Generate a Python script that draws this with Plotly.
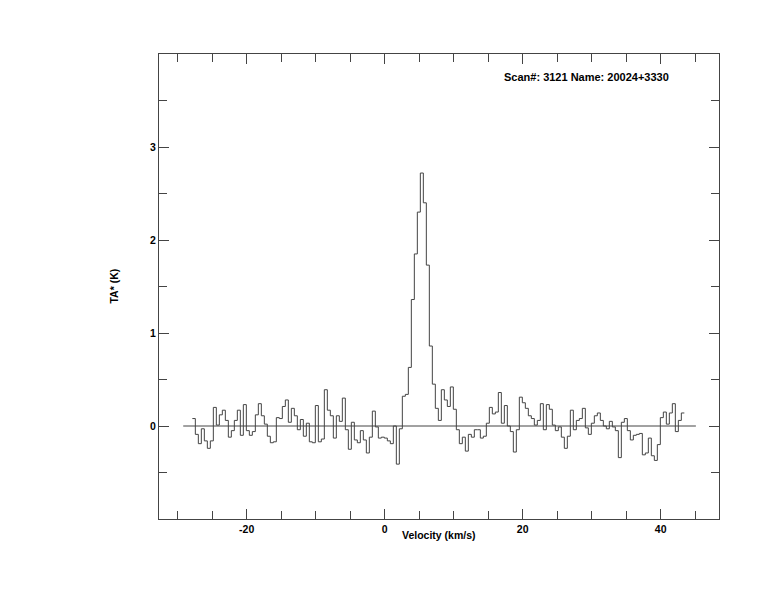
import numpy as np
import plotly.graph_objects as go

# Spectrometer channel grid (km/s): left edge of first channel and channel width
V_FIRST_EDGE = -27.88
V_CHANNEL_WIDTH = 0.4348

# Antenna temperature TA* (K) per channel
TA = [
    0.08, -0.09, -0.19, -0.03, -0.16, -0.24, -0.16, 0.20, 0.01, 0.12,
    0.17, 0.06, -0.12, -0.05, 0.06, 0.17, -0.10, 0.23, -0.05, -0.10,
    -0.06, 0.12, 0.24, 0.11, 0.02, -0.11, -0.18, -0.17, 0.09, 0.08,
    0.21, 0.28, 0.04, 0.19, 0.11, -0.04, 0.07, -0.11, 0.03, -0.17,
    -0.18, 0.22, -0.17, -0.14, 0.39, 0.17, 0.11, -0.13, 0.11, 0.05,
    0.30, -0.04, -0.25, 0.04, -0.15, -0.18, -0.05, -0.15, -0.29, -0.12,
    0.16, -0.01, -0.13, -0.12, -0.13, -0.16, -0.19, 0.00, -0.41, -0.03,
    0.32, 0.34, 0.63, 1.36, 1.85, 2.30, 2.72, 2.40, 1.73, 0.86,
    0.45, 0.19, 0.06, 0.39, 0.28, 0.21, 0.42, 0.18, -0.04, -0.19,
    -0.12, -0.27, -0.09, -0.12, -0.04, -0.04, -0.13, -0.11, 0.03, 0.20,
    0.13, 0.15, 0.36, 0.03, 0.22, 0.00, -0.06, -0.28, -0.04, 0.31,
    0.25, 0.19, 0.11, 0.08, 0.01, 0.06, 0.24, -0.04, 0.23, 0.18,
    0.01, -0.05, -0.01, -0.12, -0.24, -0.11, 0.17, -0.04, 0.06, 0.08,
    0.19, -0.02, -0.09, 0.03, 0.11, 0.14, 0.06, 0.00, -0.03, 0.05,
    -0.01, -0.05, -0.34, 0.04, 0.08, -0.05, -0.15, -0.10, -0.09, -0.08,
    -0.31, -0.29, -0.13, -0.32, -0.37, -0.20, 0.09, 0.15, 0.02, 0.14,
    0.24, -0.06, 0.06, 0.14,
]

BASELINE_V = [-29.2, 45.1]
BASELINE_T = [0.0, 0.0]

X_RANGE = [-32.71, 48.45]
Y_RANGE = [-1.0, 4.0]
X_MAJOR = [-20, 0, 20, 40]
X_MINOR = [-30, -25, -15, -10, -5, 5, 10, 15, 25, 30, 35, 45]
Y_MAJOR = [0, 1, 2, 3]
Y_MINOR = [-0.5, 0.5, 1.5, 2.5, 3.5]

TITLE_TEXT = "Scan#: 3121 Name: 20024+3330"
X_TITLE = "Velocity (km/s)"
Y_TITLE = "TA* (K)"

n = len(TA)
edges = V_FIRST_EDGE + V_CHANNEL_WIDTH * np.arange(n + 1)
step_y = TA + [TA[-1]]

LINE_COLOR = "#444444"
FONT = "Liberation Sans, Arial, sans-serif"

fig = go.Figure()
fig.add_trace(go.Scatter(x=BASELINE_V, y=BASELINE_T, mode="lines",
                         line=dict(color=LINE_COLOR, width=1), hoverinfo="skip",
                         showlegend=False))
fig.add_trace(go.Scatter(x=edges, y=step_y, mode="lines", line_shape="hv",
                         line=dict(color=LINE_COLOR, width=1), showlegend=False))

axis_common = dict(
    showgrid=False, zeroline=False, showline=True, linecolor=LINE_COLOR,
    linewidth=1, mirror="allticks", ticks="inside", ticklen=10, tickwidth=1,
    tickcolor=LINE_COLOR,
    tickfont=dict(family=FONT, size=10.5, color="black", weight="bold"),
)

fig.update_xaxes(range=X_RANGE, tickmode="array", tickvals=X_MAJOR,
                 ticktext=[str(v) for v in X_MAJOR],
                 minor=dict(tickmode="array", tickvals=X_MINOR, ticks="inside",
                            ticklen=8, tickwidth=1, tickcolor=LINE_COLOR, showgrid=False),
                 **axis_common)
fig.update_yaxes(range=Y_RANGE, tickmode="array", tickvals=Y_MAJOR,
                 ticktext=[str(v) for v in Y_MAJOR],
                 minor=dict(tickmode="array", tickvals=Y_MINOR, ticks="inside",
                            ticklen=8, tickwidth=1, tickcolor=LINE_COLOR, showgrid=False),
                 **axis_common)

# The page adds an 8px body margin, so the figure is sized to fit the window
fig.update_layout(
    width=766, height=604,
    margin=dict(l=151, r=55, t=46, b=93, pad=0),
    paper_bgcolor="white", plot_bgcolor="white",
    showlegend=False,
    annotations=[
        dict(text=TITLE_TEXT, xref="paper", yref="paper", x=0.6125, y=0.9505,
             xanchor="left", yanchor="middle", showarrow=False,
             font=dict(family=FONT, size=11, color="black", weight="bold")),
        dict(text=X_TITLE, xref="paper", yref="paper", x=0.5, y=-0.0344,
             xanchor="center", yanchor="middle", showarrow=False,
             font=dict(family=FONT, size=10.5, color="black", weight="bold")),
        dict(text=Y_TITLE, xref="paper", yref="paper", x=-0.0821, y=0.5,
             xanchor="center", yanchor="middle", showarrow=False, textangle=-90,
             font=dict(family=FONT, size=10.5, color="black", weight="bold")),
    ],
)

fig.write_html("out.html")
